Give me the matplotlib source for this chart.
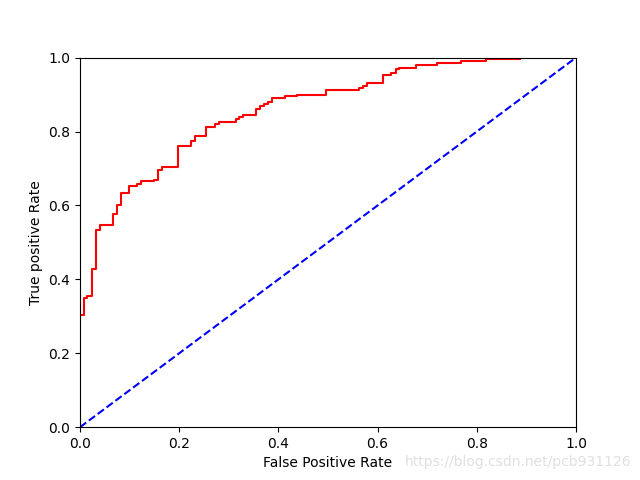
import numpy as np
import matplotlib
matplotlib.use('Agg')
import matplotlib.pyplot as plt

# ROC 曲线上的点 (阶梯, steps-post)
fpr = [0.0, 0.008, 0.015, 0.024, 0.032, 0.040, 0.067, 0.074, 0.082, 0.098,
       0.114, 0.122, 0.149, 0.157, 0.165, 0.197, 0.223, 0.231, 0.255, 0.272,
       0.280, 0.314, 0.321, 0.329, 0.354, 0.363, 0.371, 0.380, 0.388, 0.413,
       0.437, 0.496, 0.562, 0.570, 0.578, 0.611, 0.628, 0.637, 0.644, 0.677,
       0.719, 0.768, 0.819, 0.887]
tpr = [0.303, 0.350, 0.355, 0.428, 0.534, 0.546, 0.576, 0.602, 0.635, 0.653,
       0.659, 0.665, 0.669, 0.696, 0.703, 0.760, 0.775, 0.789, 0.812, 0.821,
       0.827, 0.834, 0.839, 0.845, 0.861, 0.868, 0.874, 0.880, 0.890, 0.895,
       0.900, 0.911, 0.917, 0.922, 0.932, 0.952, 0.958, 0.969, 0.972, 0.979,
       0.985, 0.990, 0.996, 0.996]

fig = plt.figure(figsize=(6.4, 4.8), dpi=100)
plt.plot(fpr, tpr, 'r', drawstyle='steps-post')
plt.plot([0, 1], [0, 1], 'b--')
plt.xlim([0, 1])
plt.ylim([0, 1])
plt.xlabel('False Positive Rate')
plt.ylabel('True positive Rate')
# 水印
fig.text(0.986, 0.037, 'https://blog.csdn.net/pcb931126', ha='right', va='center',
         fontsize=10, color='#e0e0e0')
plt.savefig('out.png')
